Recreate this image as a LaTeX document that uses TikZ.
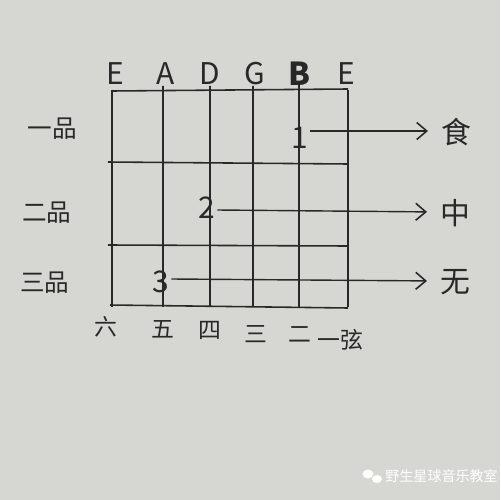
\documentclass[tikz,border=0pt]{standalone}
\usepackage{fontspec}
\setmainfont{Noto Sans CJK SC}
\usetikzlibrary{arrows.meta}
\definecolor{paper}{RGB}{214,214,211}
\definecolor{ink}{RGB}{40,40,40}
\tikzset{
  gridline/.style={ink, line width=0.9pt},
  strlabel/.style={ink, font=\fontsize{17}{17}\selectfont, inner sep=0pt},
  fretlabel/.style={ink, font=\fontsize{14}{14}\selectfont, inner sep=0pt},
  numlabel/.style={ink, font=\fontsize{17}{17}\selectfont\itshape, inner sep=1pt},
  reslabel/.style={ink, font=\fontsize{17}{17}\selectfont, inner sep=1pt},
  botlabel/.style={ink, font=\fontsize{13}{13}\selectfont, inner sep=0pt},
  arr/.style={ink, line width=0.8pt, shorten >=0.22cm, -{Straight Barb[length=2mm,width=3.4mm,line width=0.9pt]}},
}
\begin{document}
\begin{tikzpicture}[x=0.02cm,y=-0.02cm]
\useasboundingbox (0,0) rectangle (500,500);
\fill[paper] (0,0) rectangle (500,500);
% strings (vertical lines)
\foreach \x/\n in {112/s6,163/s5,210/s4,253/s3,299/s2,348/s1}{
  \coordinate (\n t) at (\x,90);
  \coordinate (\n b) at (\x,307);
}
\draw[gridline] (s6t) -- (s6b);
\draw[gridline] (s5t) -- ++(0,-4) -- (s5b);
\draw[gridline] (s4t) -- ++(0,-4) -- (s4b);
\draw[gridline] (s3t) -- ++(0,-4) -- (s3b);
\draw[gridline] (s2t) -- ++(0,-5) -- (s2b);
\draw[gridline] (s1t) -- (s1b);
% frets (horizontal lines)
\draw[gridline] (112,91) -- (348,89);
\draw[gridline] (108,162) -- (348,164);
\draw[gridline] (108,245) -- (348,246);
\draw[gridline] (110,305) -- (348,308);
% string names
\node[strlabel] (lE6) at (115,74) {E};
\node[strlabel] (lA) at (166,74) {A};
\node[strlabel] (lD) at (210,74) {D};
\node[strlabel] (lG) at (255,74) {G};
\node[strlabel, font=\fontsize{18}{18}\selectfont\bfseries] (lB) at (299,74) {B};
\node[strlabel] (lE1) at (346,74) {E};
% fret names
\node[fretlabel] (f1) at (52,129) {一品};
\node[fretlabel] (f2) at (47,213) {二品};
\node[fretlabel] (f3) at (45,283) {三品};
% bottom string numbers
\node[botlabel] (b6) at (106,327) {六};
\node[botlabel] (b5) at (163,329) {五};
\node[botlabel] (b4) at (210,330) {四};
\node[botlabel] (b3) at (256,334) {三};
\node[botlabel] (b2) at (300,335) {二};
\node[botlabel] (b1) at (340,340) {一弦};
% finger numbers
\node[numlabel] (n1) at (300,138) {1};
\node[numlabel] (n2) at (207,208) {2};
\node[numlabel] (n3) at (161,282) {3};
% results
\node[reslabel] (t1) at (456,132) {食};
\node[reslabel] (t2) at (455,213) {中};
\node[reslabel] (t3) at (455,282) {无};
\draw[arr] (n1.east |- 0,131) -- (t1.west |- 0,131);
\draw[arr] (n2.east |- 0,210) -- (t2.west |- 0,212);
\draw[arr] (n3.east |- 0,279) -- (t3.west |- 0,281);
% watermark
\fill[white] (368,474) ellipse (5.5 and 4.5);
\fill[white] (377,479) ellipse (5 and 4);
\node[white, font=\fontsize{8}{8}\selectfont, inner sep=0pt, anchor=west] (wm) at (385,476) {野生星球音乐教室};
\end{tikzpicture}
\end{document}
